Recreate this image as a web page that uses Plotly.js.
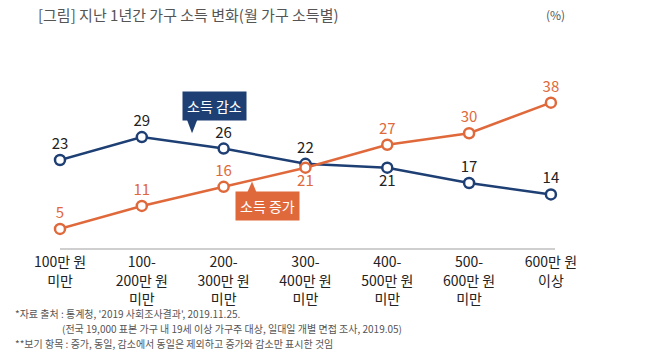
<!DOCTYPE html>
<html><head><meta charset="utf-8">
<script src="https://cdn.plot.ly/plotly-3.0.1.min.js"></script>
<style>body{margin:0;background:#fff}#c{width:650px;height:353px}</style>
</head><body><div id="c"></div>
<script>
const categories = ["100만 원<br>미만","100-<br>200만 원<br>미만","200-<br>300만 원<br>미만","300-<br>400만 원<br>미만","400-<br>500만 원<br>미만","500-<br>600만 원<br>미만","600만 원<br>이상"];
const decrease = [23, 29, 26, 22, 21, 17, 14];
const increase = [5, 11, 16, 21, 27, 30, 38];
const decreasePos = ["top center","top center","top center","top center","bottom center","top center","top center"];
const increasePos = ["top center","top center","top center","bottom center","top center","top center","top center"];
const title = "[그림] 지난 1년간 가구 소득 변화(월 가구 소득별)";
const unit = "(%)";
const notes = ["*자료 출처 : 통계청, '2019 사회조사결과', 2019.11.25.",
  "(전국 19,000 표본 가구 내 19세 이상 가구주 대상, 일대일 개별 면접 조사, 2019.05)",
  "**보기 항목 : 증가, 동일, 감소에서 동일은 제외하고 증가와 감소만 표시한 것임"];

const FONT = "Noto Sans CJK KR, Noto Sans, sans-serif";
const BLUE = "#1e3f74", ORANGE = "#e0693b";
const idx = categories.map((_, i) => i);

const traces = [
  {x: idx, y: decrease, mode: "lines+markers+text", text: decrease.map(String), textposition: decreasePos,
   textfont: {family: FONT, size: 15, color: "#222"}, cliponaxis: false,
   line: {color: BLUE, width: 2.5}, marker: {size: 10, color: "#fff", line: {color: BLUE, width: 2.5}}, hoverinfo: "none"},
  {x: idx, y: increase, mode: "lines+markers+text", text: increase.map(String), textposition: increasePos,
   textfont: {family: FONT, size: 15, color: ORANGE}, cliponaxis: false,
   line: {color: ORANGE, width: 2.5}, marker: {size: 10, color: "#fff", line: {color: ORANGE, width: 2.5}}, hoverinfo: "none"}
];

const annotations = [
  {xref: "paper", yref: "paper", x: -0.0485, y: 1.529, xanchor: "left", yanchor: "middle", showarrow: false,
   text: title, font: {family: FONT, size: 15, color: "#555"}},
  {xref: "paper", yref: "paper", x: 1.0, y: 1.529, xanchor: "center", yanchor: "middle", showarrow: false,
   text: unit, font: {family: FONT, size: 12, color: "#555"}},
  {x: 1.89, y: 37.0, xref: "x", yref: "y", showarrow: false, text: "소득 감소", bgcolor: BLUE,
   borderpad: 4, font: {family: FONT, size: 14, color: "#fff"}},
  {x: 2.54, y: 10.9, xref: "x", yref: "y", showarrow: false, text: "소득 증가", bgcolor: ORANGE,
   borderpad: 4, font: {family: FONT, size: 14, color: "#fff"}},
  {xref: "paper", yref: "paper", x: -0.095, y: -0.428, xanchor: "left", yanchor: "middle", showarrow: false,
   text: notes[0], font: {family: FONT, size: 10, color: "#555"}},
  {xref: "paper", yref: "paper", x: 0.0, y: -0.526, xanchor: "left", yanchor: "middle", showarrow: false,
   text: notes[1], font: {family: FONT, size: 10, color: "#555"}},
  {xref: "paper", yref: "paper", x: -0.095, y: -0.624, xanchor: "left", yanchor: "middle", showarrow: false,
   text: notes[2], font: {family: FONT, size: 10, color: "#555"}}
];

const shapes = [
  {type: "path", xref: "x", yref: "y", path: "M 1.54 34.2 L 1.69 34.2 L 1.614 30.0 Z",
   fillcolor: BLUE, line: {width: 0}},
  {type: "path", xref: "x", yref: "y", path: "M 2.27 13.6 L 2.42 13.6 L 2.347 17.4 Z",
   fillcolor: ORANGE, line: {width: 0}}
];

const layout = {
  width: 650, height: 353, paper_bgcolor: "#fff", plot_bgcolor: "#fff",
  margin: {l: 60, r: 95, t: 95, b: 105},
  showlegend: false, font: {family: FONT},
  xaxis: {range: [0, 6.05], tickvals: idx, ticktext: categories, showgrid: false, zeroline: false,
    showline: true, linecolor: "#cfcfcf", linewidth: 1.5, ticks: "", fixedrange: true, ticklabelstandoff: 1,
    tickfont: {family: FONT, size: 14, color: "#222"}},
  yaxis: {range: [0, 40], visible: false, showgrid: false, zeroline: false, fixedrange: true},
  annotations: annotations, shapes: shapes
};
Plotly.newPlot("c", traces, layout, {staticPlot: true});
</script></body></html>
